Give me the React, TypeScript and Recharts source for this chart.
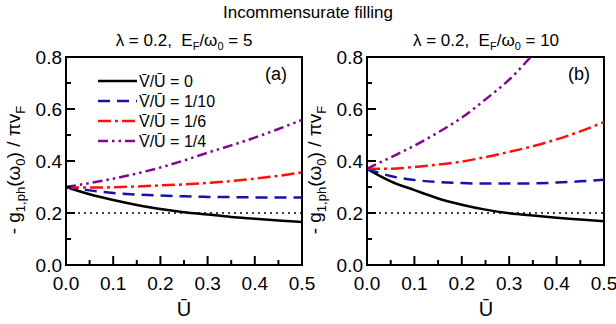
import {
  LineChart,
  Line,
  XAxis,
  YAxis,
  ReferenceLine,
  ReferenceArea,
  Legend,
} from "recharts";

const FONT = '"Liberation Sans", Arial, Helvetica, sans-serif';

// U-bar sampling points
const U = [0, 0.05, 0.1, 0.15, 0.2, 0.25, 0.3, 0.35, 0.4, 0.45, 0.5];

// panel (a): E_F/w0 = 5
const A_V0 = [0.3, 0.272, 0.25, 0.231, 0.215, 0.203, 0.194, 0.185, 0.178, 0.171, 0.165];
const A_V10 = [0.3, 0.287, 0.277, 0.271, 0.267, 0.264, 0.262, 0.261, 0.26, 0.26, 0.26];
const A_V6 = [0.3, 0.298, 0.299, 0.302, 0.306, 0.31, 0.316, 0.323, 0.332, 0.343, 0.356];
const A_V4 = [0.3, 0.315, 0.332, 0.352, 0.375, 0.402, 0.432, 0.46, 0.49, 0.523, 0.558];

// panel (b): E_F/w0 = 10
const B_V0 = [0.37, 0.322, 0.288, 0.256, 0.232, 0.213, 0.199, 0.19, 0.182, 0.175, 0.168];
const B_V10 = [0.37, 0.342, 0.327, 0.319, 0.315, 0.313, 0.313, 0.314, 0.317, 0.322, 0.328];
const B_V6 = [0.37, 0.37, 0.377, 0.386, 0.398, 0.415, 0.435, 0.457, 0.483, 0.514, 0.55];
const B_V4 = [0.37, 0.414, 0.459, 0.51, 0.567, 0.637, 0.713, 0.81, null, null, null];

const X_TICKS = [0, 0.05, 0.1, 0.15, 0.2, 0.25, 0.3, 0.35, 0.4, 0.45, 0.5];
const Y_TICKS = [0, 0.1, 0.2, 0.3, 0.4, 0.5, 0.6, 0.7, 0.8];

const SERIES = [
  { key: "v0", label: "V\u0304/U\u0304 = 0", color: "#000000", dash: undefined },
  { key: "v10", label: "V\u0304/U\u0304 = 1/10", color: "#1414a8", dash: "12 7" },
  { key: "v6", label: "V\u0304/U\u0304 = 1/6", color: "#ff1010", dash: "13 4 3 4" },
  { key: "v4", label: "V\u0304/U\u0304 = 1/4", color: "#800a8c", dash: "10 4 2.5 4 2.5 4" },
];

function buildRows(v0: number[], v10: number[], v6: number[], v4: (number | null)[]) {
  return U.map((u, i) => ({ u, v0: v0[i], v10: v10[i], v6: v6[i], v4: v4[i] }));
}

const DATA_A = buildRows(A_V0, A_V10, A_V6, A_V4);
const DATA_B = buildRows(B_V0, B_V10, B_V6, B_V4);

function XTick(props: any) {
  const { x, y, payload } = props;
  const v = payload.value as number;
  const major = Math.round(v * 100) % 10 === 0;
  return (
    <g>
      <line x1={x} x2={x} y1={y} y2={y - (major ? 9 : 5)} stroke="#000" strokeWidth={2} />
      {major && (
        <text x={x} y={y + 25} textAnchor="middle" fontSize={19} fontFamily={FONT} fill="#000">
          {v.toFixed(1)}
        </text>
      )}
    </g>
  );
}

function YTick(props: any) {
  const { x, y, payload } = props;
  const v = payload.value as number;
  const major = Math.round(v * 10) % 2 === 0;
  return (
    <g>
      <line x1={x} x2={x + (major ? 9 : 5)} y1={y} y2={y} stroke="#000" strokeWidth={2} />
      {major && (
        <text x={x - 4} y={y + 7} textAnchor="end" fontSize={19} fontFamily={FONT} fill="#000">
          {v.toFixed(1)}
        </text>
      )}
    </g>
  );
}

function LegendBox() {
  return (
    <svg width={170} height={84} style={{ display: "block" }}>
      {SERIES.map((s, i) => (
        <g key={s.key}>
          <line
            x1={2}
            x2={41}
            y1={11 + i * 20}
            y2={11 + i * 20}
            stroke={s.color}
            strokeWidth={2.5}
            strokeDasharray={s.dash}
          />
          <text x={43} y={17 + i * 20} fontSize={16} fontFamily={FONT} fill="#000">
            {s.label}
          </text>
        </g>
      ))}
    </svg>
  );
}

interface PanelProps {
  data: ReturnType<typeof buildRows>;
  left: number;
  width: number;
  marginLeft: number;
  marginRight: number;
  withLegend?: boolean;
}

function Panel({ data, left, width, marginLeft, marginRight, withLegend }: PanelProps) {
  return (
    <div style={{ position: "absolute", left, top: 0 }}>
      <LineChart
        width={width}
        height={324}
        data={data}
        margin={{ top: 57, right: marginRight, bottom: 29, left: marginLeft }}
      >
        <XAxis
          dataKey="u"
          type="number"
          domain={[0, 0.5]}
          ticks={X_TICKS}
          interval={0}
          tickSize={0}
          tickMargin={0}
          tick={<XTick />}
          height={30}
          axisLine={{ stroke: "#000", strokeWidth: 2 }}
        />
        <YAxis
          type="number"
          domain={[0, 0.8]}
          ticks={Y_TICKS}
          interval={0}
          allowDataOverflow
          tickSize={0}
          tickMargin={0}
          tick={<YTick />}
          width={50}
          axisLine={{ stroke: "#000", strokeWidth: 2 }}
        />
        <ReferenceLine y={0.2} stroke="#000" strokeWidth={1.5} strokeDasharray="2 4" />
        {SERIES.map((s) => (
          <Line
            key={s.key}
            dataKey={s.key}
            type="monotone"
            stroke={s.color}
            strokeWidth={2.5}
            strokeDasharray={s.dash}
            dot={false}
            activeDot={false}
            isAnimationActive={false}
          />
        ))}
        <ReferenceArea
          x1={0}
          x2={0.5}
          y1={0}
          y2={0.8}
          fill="none"
          fillOpacity={0}
          stroke="#000"
          strokeWidth={2}
        />
        {withLegend && (
          <Legend
            layout="vertical"
            align="center"
            verticalAlign="middle"
            content={() => <LegendBox />}
            wrapperStyle={{ left: 96, top: 70, width: 170 }}
          />
        )}
      </LineChart>
    </div>
  );
}

function YLabel({ cx, cy }: { cx: number; cy: number }) {
  return (
    <text
      transform={`translate(${cx},${cy}) rotate(-90)`}
      textAnchor="middle"
      fontSize={19}
      fontFamily={FONT}
      fill="#000"
    >
      - g
      <tspan fontSize={13} dy={5}>1,ph</tspan>
      <tspan dy={-5}>(ω</tspan>
      <tspan fontSize={13} dy={5}>0</tspan>
      <tspan dy={-5}>) / πv</tspan>
      <tspan fontSize={13} dy={5}>F</tspan>
    </text>
  );
}

function SubTitle({ cx, value }: { cx: number; value: string }) {
  return (
    <text
      x={cx}
      y={46}
      textAnchor="middle"
      fontSize={17}
      fontFamily={FONT}
      fill="#000"
      style={{ whiteSpace: "pre" }}
    >
      {"λ = 0.2,  E"}
      <tspan fontSize={11} dy={4}>F</tspan>
      <tspan dy={-4}>/ω</tspan>
      <tspan fontSize={11} dy={4}>0</tspan>
      <tspan dy={-4}>{" = " + value}</tspan>
    </text>
  );
}

export default function App() {
  return (
    <div
      style={{
        position: "absolute",
        left: 0,
        top: 0,
        width: 616,
        height: 324,
        background: "#fff",
        overflow: "hidden",
      }}
    >
      <Panel data={DATA_A} left={0} width={325} marginLeft={16} marginRight={23} withLegend />
      <Panel data={DATA_B} left={308} width={308} marginLeft={9} marginRight={12} />
      <svg
        width={616}
        height={324}
        style={{ position: "absolute", left: 0, top: 0, pointerEvents: "none" }}
      >
        <text x={308} y={18} textAnchor="middle" fontSize={17} fontFamily={FONT} fill="#000">
          Incommensurate filling
        </text>
        <SubTitle cx={184} value="5" />
        <SubTitle cx={486} value="10" />
        <YLabel cx={20} cy={170} />
        <YLabel cx={321} cy={170} />
        <text x={184} y={316} textAnchor="middle" fontSize={20} fontFamily={FONT} fill="#000">
          U{"\u0304"}
        </text>
        <text x={486} y={316} textAnchor="middle" fontSize={20} fontFamily={FONT} fill="#000">
          U{"\u0304"}
        </text>
        <text x={287} y={80} textAnchor="end" fontSize={18} fontFamily={FONT} fill="#000">
          (a)
        </text>
        <text x={590} y={80} textAnchor="end" fontSize={18} fontFamily={FONT} fill="#000">
          (b)
        </text>
      </svg>
    </div>
  );
}
